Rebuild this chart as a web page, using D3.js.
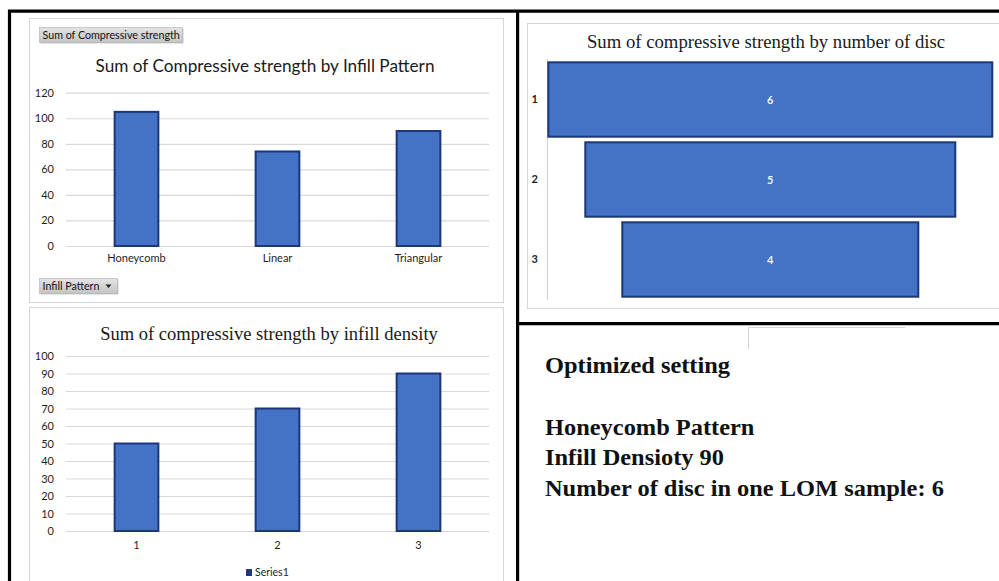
<!DOCTYPE html>
<html>
<head>
<meta charset="utf-8">
<script src="https://cdn.jsdelivr.net/npm/d3@7"></script>
<style>
  html, body { margin: 0; padding: 0; background: #fff; }
  svg { display: block; }
</style>
</head>
<body>
<svg id="chart" width="999" height="581"></svg>
<script>
// Compressive strength by infill pattern
const patternCategories = ["Honeycomb", "Linear", "Triangular"];
const patternValues = [105, 74, 90];
const patternTicks = [0, 20, 40, 60, 80, 100, 120];

// Compressive strength by infill density
const densityCategories = ["1", "2", "3"];
const densityValues = [50, 70, 90];
const densityTicks = [0, 10, 20, 30, 40, 50, 60, 70, 80, 90, 100];
const densitySeriesName = "Series1";

// Funnel: number of discs
const discCategories = ["1", "2", "3"];
const discValues = [6, 5, 4];

// Summary text
const summaryHeading = "Optimized setting";
const summaryLines = [
  "Honeycomb Pattern",
  "Infill Densioty 90",
  "Number of disc in one LOM sample: 6"
];

const sans = "Lato, 'Noto Sans', sans-serif";
const serif = "'Liberation Serif', 'DejaVu Serif', serif";
const barFill = "#4472c4";
const barStroke = "#1c367a";
const gridColor = "#d9d9d9";
const labelColor = "#1e1e1e";

const svg = d3.select("#chart");

const defs = svg.append("defs");
const btnGrad = defs.append("linearGradient").attr("id", "btnGrad")
  .attr("x1", 0).attr("y1", 0).attr("x2", 0).attr("y2", 1);
btnGrad.append("stop").attr("offset", "0%").attr("stop-color", "#e4e4e4");
btnGrad.append("stop").attr("offset", "100%").attr("stop-color", "#c4c4c4");

// Serif text widened slightly to the proportions of a book face
function wideText(parent, x, y, str, size, stretch, anchor, weight) {
  return parent.append("text")
    .attr("transform", `translate(${x},${y}) scale(${stretch},1)`)
    .attr("text-anchor", anchor || "start")
    .attr("font-family", serif).attr("font-size", size)
    .attr("font-weight", weight || "normal").attr("fill", "#1a1a1a")
    .text(str);
}

// Panel outlines
function panel(x, y, w, h) {
  svg.append("rect").attr("x", x).attr("y", y).attr("width", w).attr("height", h)
    .attr("fill", "#fff").attr("stroke", "#d6d6d6").attr("stroke-width", 1);
}
panel(29.5, 18.5, 474, 284);
panel(29.5, 307.5, 474, 290);
panel(527.5, 23.5, 490, 285);

// Pivot-style field buttons
function button(x, y, w, h, label, arrow, size) {
  const g = svg.append("g").attr("transform", `translate(${x},${y})`);
  g.append("rect").attr("x", 1).attr("y", 1).attr("width", w).attr("height", h).attr("fill", "#9a9a9a").attr("opacity", 0.5);
  g.append("rect").attr("width", w).attr("height", h).attr("fill", "url(#btnGrad)").attr("stroke", "#b0b0b0").attr("stroke-width", 0.6);
  g.append("text").attr("x", 3).attr("y", h / 2 + 3.8).attr("font-family", sans).attr("font-size", size)
    .attr("fill", "#111").text(label);
  if (arrow) {
    g.append("path").attr("d", `M${w - 12},${h / 2 - 1.5} l6,0 l-3,3.5 z`).attr("fill", "#222");
  }
}

// Vertical bar chart builder
function barChart(opts) {
  const x = d3.scaleBand().domain(opts.categories).range([66, 489])
    .paddingInner(0.69).paddingOuter(0.345);
  const y = d3.scaleLinear().domain([0, d3.max(opts.ticks)]).range([opts.y0, opts.y1]);

  const yAxis = d3.axisLeft(y).tickValues(opts.ticks).tickSize(-(489 - 66)).tickFormat(d3.format("d"));
  const gy = svg.append("g").attr("transform", "translate(66,0)").call(yAxis);
  gy.select(".domain").remove();
  gy.selectAll(".tick line").attr("stroke", gridColor).attr("stroke-width", 1.2);
  gy.selectAll(".tick text").attr("x", -12).attr("font-family", sans).attr("font-size", 11).attr("fill", labelColor);

  svg.append("g").selectAll("rect").data(opts.values).join("rect")
    .attr("x", (d, i) => x(opts.categories[i]))
    .attr("y", d => y(d))
    .attr("width", x.bandwidth())
    .attr("height", d => opts.y0 - y(d))
    .attr("fill", barFill)
    .attr("stroke", barStroke)
    .attr("stroke-width", 2);

  const xAxis = d3.axisBottom(x).tickSize(0).tickPadding(opts.labelPad);
  const gx = svg.append("g").attr("transform", `translate(0,${opts.y0})`).call(xAxis);
  gx.select(".domain").remove();
  gx.selectAll(".tick text").attr("font-family", sans).attr("font-size", 11).attr("fill", labelColor);
  return x;
}

// Chart 1
button(39.5, 27.5, 143, 15, "Sum of Compressive strength", false, 10.7);
barChart({
  categories: patternCategories, values: patternValues, ticks: patternTicks,
  y0: 246, y1: 92.7, labelPad: 8
});
svg.append("text").attr("x", 265).attr("y", 72).attr("text-anchor", "middle")
  .attr("font-family", sans).attr("font-size", 17.2).attr("fill", "#1a1a1a")
  .text("Sum of Compressive strength by Infill Pattern");
button(39.5, 278.5, 78, 15, "Infill Pattern", true, 10.7);

// Chart 2
barChart({
  categories: densityCategories, values: densityValues, ticks: densityTicks,
  y0: 531, y1: 356, labelPad: 10
});
wideText(svg, 269, 340, "Sum of compressive strength by infill density", 18, 1.03, "middle");
const legend = svg.append("g").attr("transform", "translate(246,576)");
legend.append("rect").attr("x", 0).attr("y", -7).attr("width", 6).attr("height", 7).attr("fill", "#1f3a7e");
legend.append("text").attr("x", 9).attr("y", 0).attr("font-family", sans).attr("font-size", 10.5).attr("fill", labelColor).text(densitySeriesName);

// Chart 3: funnel of centred horizontal bars
const fy = d3.scaleBand().domain(discCategories).range([59.5, 299.5]).paddingInner(0.07).paddingOuter(0.035);
const fw = d3.scaleLinear().domain([0, d3.max(discValues)]).range([0, 444]);
const fcx = 770.3;
svg.append("line").attr("x1", 547.5).attr("x2", 547.5).attr("y1", 59).attr("y2", 300)
  .attr("stroke", "#d0d0d0").attr("stroke-width", 1);
const fyAxis = d3.axisLeft(fy).tickSize(0).tickPadding(7);
const gfy = svg.append("g").attr("transform", "translate(545,0)").call(fyAxis);
gfy.select(".domain").remove();
gfy.selectAll(".tick text").attr("font-family", sans).attr("font-size", 11).attr("font-weight", "bold").attr("fill", labelColor);

const funnel = svg.append("g").selectAll("g").data(discValues).join("g");
funnel.append("rect")
  .attr("x", d => fcx - fw(d) / 2)
  .attr("y", (d, i) => fy(discCategories[i]))
  .attr("width", d => fw(d))
  .attr("height", fy.bandwidth())
  .attr("fill", barFill)
  .attr("stroke", barStroke)
  .attr("stroke-width", 2);
funnel.append("text")
  .attr("x", fcx)
  .attr("y", (d, i) => fy(discCategories[i]) + fy.bandwidth() / 2 + 4)
  .attr("text-anchor", "middle")
  .attr("font-family", sans).attr("font-size", 11).attr("font-weight", "bold")
  .attr("fill", "#eef2fa")
  .text(d => d);
wideText(svg, 766, 48, "Sum of compressive strength by number of disc", 18, 1.04, "middle");

// Summary text block
svg.append("path").attr("d", "M748.5,349 V327.5 H905").attr("fill", "none").attr("stroke", "#d6d6d6").attr("stroke-width", 1);
wideText(svg, 545, 373, summaryHeading, 22.5, 1.085, "start", "bold").attr("fill", "#111");
summaryLines.forEach((line, i) => {
  wideText(svg, 545, 435 + i * 30.3, line, 22.5, 1.085, "start", "bold").attr("fill", "#111");
});

// Black frame dividing the layout
const frame = svg.append("g").attr("stroke", "#000").attr("stroke-width", 3.2).attr("fill", "none");
frame.append("path").attr("d", "M9.5,581 V11.2 H999");
frame.append("line").attr("x1", 517.6).attr("x2", 517.6).attr("y1", 11).attr("y2", 581);
frame.append("line").attr("x1", 517).attr("x2", 999).attr("y1", 323.6).attr("y2", 323.6);
</script>
</body>
</html>
